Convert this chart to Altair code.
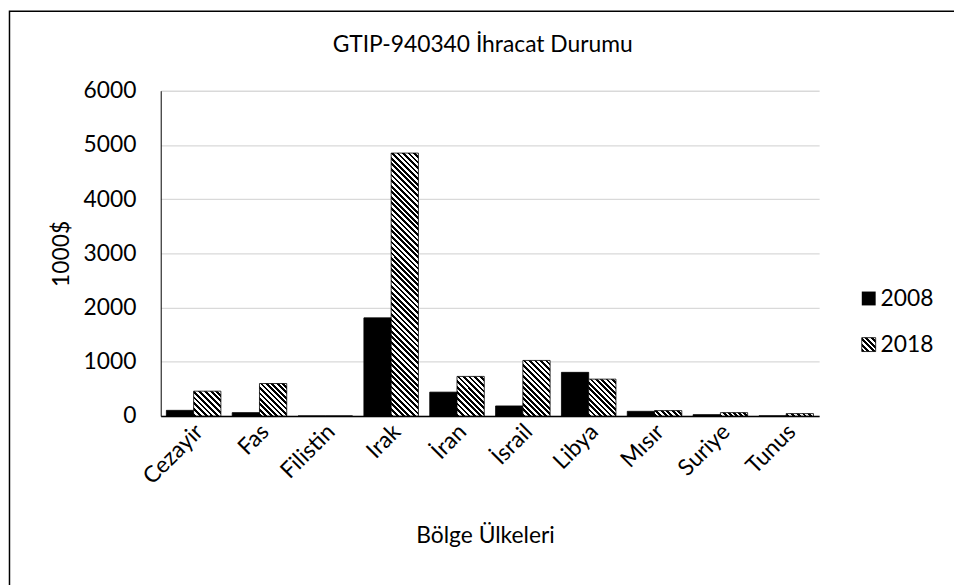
import altair as alt

# ---- data ----
countries = ["Cezayir", "Fas", "Filistin", "Irak", "İran", "İsrail", "Libya", "Mısır", "Suriye", "Tunus"]
v2008 = [104, 62, 0, 1810, 440, 185, 805, 86, 25, 2]
v2018 = [458, 599, 0, 4850, 730, 1025, 680, 99, 62, 44]
years = ["2008", "2018"]
y_ticks = [0, 1000, 2000, 3000, 4000, 5000, 6000]
chart_title = "GTIP-940340 İhracat Durumu"

# ---- layout ----
W, H = 664, 328
YMAX = 6000
BAR_W = 27.5
PERIOD = 5.6
FONT = "Lato"
FS = 23


def hatch(w, h, period=PERIOD):
    """Diagonal (\\) black/white stripes as a linear gradient in bbox units."""
    w = max(w, 0.5)
    h = max(h, 0.5)
    k = (w + h) / (w * w + h * h)
    n = max(1, round((w + h) / period))
    stops = []
    for j in range(n):
        a, m, b = j / n, (j + 0.5) / n, (j + 1) / n
        stops += [
            {"offset": a, "color": "black"},
            {"offset": m, "color": "black"},
            {"offset": m, "color": "white"},
            {"offset": b, "color": "white"},
        ]
    return {"gradient": "linear", "x1": 0, "y1": 1, "x2": k * w, "y2": 1 - k * h, "stops": stops}


rows = []
for c, a, b in zip(countries, v2008, v2018):
    rows.append({"country": c, "year": years[0], "value": a, "paint": "black"})
    rows.append({"country": c, "year": years[1], "value": b, "paint": hatch(BAR_W, b * H / YMAX)})

bars = alt.Chart(alt.Data(values=rows)).mark_bar(stroke="black", strokeWidth=0.8).encode(
    x=alt.X(
        "country:N",
        sort=countries,
        scale=alt.Scale(paddingInner=0.172, paddingOuter=0.086),
        axis=alt.Axis(
            title="Bölge Ülkeleri",
            labelAngle=315,
            labelAlign="right",
            labelBaseline="middle",
            labelFontSize=FS,
            labelPadding=12,
            labelOffset=6,
            labelColor="black",
            ticks=False,
            domainColor="black",
            domainWidth=1.5,
            titleFontSize=FS,
            titleFontWeight="normal",
            titleColor="black",
            titleX=327,
            titleY=128,
            titleBaseline="alphabetic",
            titleAlign="center",
        ),
    ),
    xOffset=alt.XOffset("year:N", sort=years),
    y=alt.Y(
        "value:Q",
        stack=None,
        scale=alt.Scale(domain=[0, YMAX], nice=False),
        axis=alt.Axis(
            values=y_ticks,
            format="d",
            title="1000$",
            labelFontSize=FS,
            labelPadding=25,
            labelColor="black",
            ticks=False,
            domainColor="black",
            domainWidth=1,
            gridColor="#d9d9d9",
            gridWidth=1.3,
            titleFontSize=FS,
            titleFontWeight="normal",
            titleColor="black",
            titleAngle=270,
            titleX=-100,
            titleY=H / 2,
            titleAlign="center",
            titleBaseline="middle",
        ),
    ),
    fill=alt.Fill("paint:N", scale=None),
)

one = alt.Data(values=[{}])

frame = alt.Chart(one).mark_rect(fillOpacity=0, stroke="black", strokeWidth=1.5).encode(
    x=alt.value(-152.5), y=alt.value(-80.2), x2=alt.value(900), y2=alt.value(700)
)

title_mark = alt.Chart(one).mark_text(
    align="center", baseline="alphabetic", fontSize=FS, font=FONT, color="black"
).encode(x=alt.value(324.7), y=alt.value(-39.5), text=alt.value(chart_title))

leg_sq1 = alt.Chart(one).mark_rect(fill="black").encode(
    x=alt.value(707), x2=alt.value(721), y=alt.value(202.5), y2=alt.value(216.5)
)
leg_sq2 = alt.Chart(one).mark_rect(fill=hatch(14, 14), stroke="black", strokeWidth=0.8).encode(
    x=alt.value(707), x2=alt.value(721), y=alt.value(249), y2=alt.value(263)
)
leg_t1 = alt.Chart(one).mark_text(align="left", baseline="middle", fontSize=FS, font=FONT, color="black").encode(
    x=alt.value(726), y=alt.value(210), text=alt.value(years[0])
)
leg_t2 = alt.Chart(one).mark_text(align="left", baseline="middle", fontSize=FS, font=FONT, color="black").encode(
    x=alt.value(726), y=alt.value(256.5), text=alt.value(years[1])
)

chart = alt.layer(frame, title_mark, bars, leg_sq1, leg_sq2, leg_t1, leg_t2).properties(
    width=W,
    height=H,
    autosize=alt.AutoSizeParams(type="none"),
    padding={"left": 154, "top": 81, "right": 136, "bottom": 168},
).configure(font=FONT, background="white").configure_view(stroke=None).configure_axis(
    labelFont=FONT, titleFont=FONT
)

chart.save("out.html", embed_options={"renderer": "svg", "actions": False})
